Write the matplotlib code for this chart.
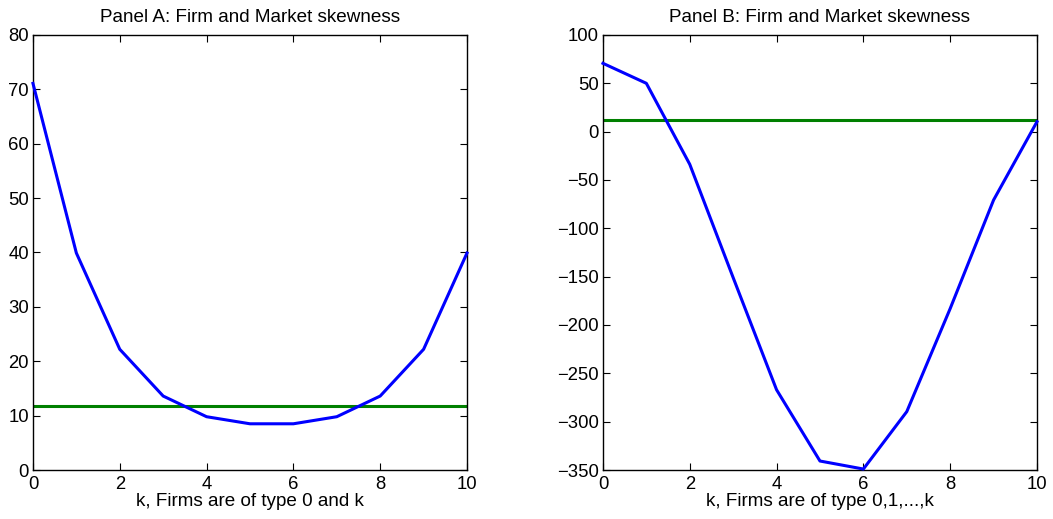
import matplotlib
matplotlib.use('Agg')
import matplotlib.pyplot as plt

plt.rcParams['font.family'] = ['Liberation Sans', 'DejaVu Sans']

# data
k = [0, 1, 2, 3, 4, 5, 6, 7, 8, 9, 10]
firmA = [71.1, 39.9, 22.2, 13.6, 9.8, 8.5, 8.5, 9.8, 13.6, 22.2, 39.9]
marketA = 11.8
firmB = [70.7, 50.0, -33.8, -151.0, -267.0, -340.7, -349.0, -289.6, -183.0, -70.7, 10.3]
marketB = 11.6

titles = ['Panel A: Firm and Market skewness', 'Panel B: Firm and Market skewness']
xlabels = ['k, Firms are of type 0 and k', 'k, Firms are of type 0,1,...,k']
ylims = [(0, 80), (-350, 100)]
yticks = [list(range(0, 81, 10)), list(range(-350, 101, 50))]

fig = plt.figure(figsize=(10.53, 5.19), dpi=100)
axA = fig.add_axes([0.0313, 0.0944, 0.4122, 0.8382])
axB = fig.add_axes([0.5726, 0.0944, 0.4122, 0.8382])

for ax, firm, market, title, xl, yl, yt in zip(
        [axA, axB], [firmA, firmB], [marketA, marketB], titles, xlabels, ylims, yticks):
    ax.plot(k, firm, color=(0, 0, 1), linewidth=2.2, clip_on=False, zorder=3)
    ax.axhline(market, color=(0, 0.5, 0), linewidth=2.2, zorder=2)
    ax.set_xlim(0, 10)
    ax.set_ylim(*yl)
    ax.set_xticks([0, 2, 4, 6, 8, 10])
    ax.set_yticks(yt)
    ax.tick_params(direction='in', top=True, right=True, labelsize=13.3,
                   length=5, width=0.8)
    ax.tick_params(axis='x', pad=4)
    ax.tick_params(axis='y', pad=3)
    for s in ax.spines.values():
        s.set_linewidth(1.0)
    ax.set_title(title, fontsize=13.6, pad=9)
    ax.set_xlabel(xl, fontsize=13.6, labelpad=0)

fig.savefig('out.png', dpi=100)
